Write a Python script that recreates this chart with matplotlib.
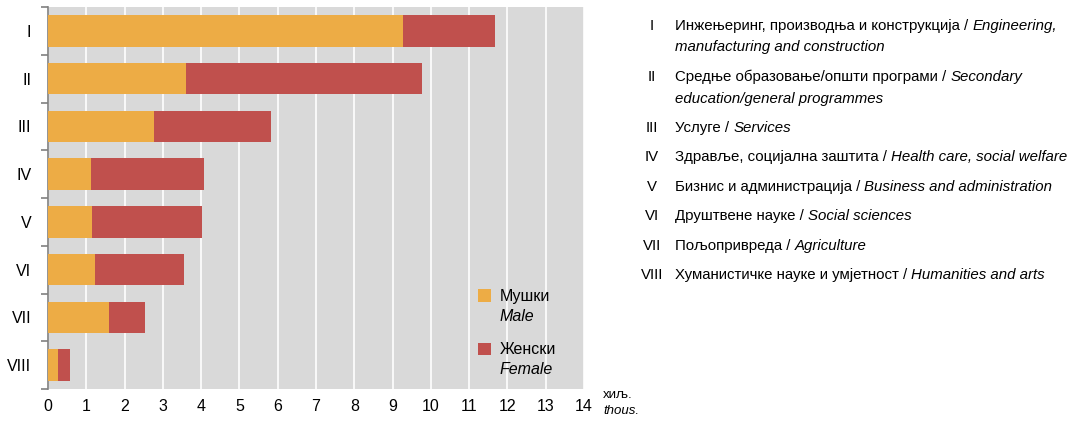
import numpy as np
import matplotlib
matplotlib.use("Agg")
import matplotlib.pyplot as plt
from matplotlib.ticker import FixedLocator

# data (thousands)
categories = ["I", "II", "III", "IV", "V", "VI", "VII", "VIII"]
male = [9.26, 3.61, 2.77, 1.13, 1.16, 1.24, 1.59, 0.26]
total = [11.68, 9.78, 5.83, 4.08, 4.01, 3.54, 2.54, 0.57]
female = [t - m for t, m in zip(total, male)]

desc_sr = [
    "Инжењеринг, производња и конструкција / ",
    "Средње образовање/општи програми / ",
    "Услуге / ",
    "Здравље, социјална заштита / ",
    "Бизнис и администрација / ",
    "Друштвене науке / ",
    "Пољопривреда / ",
    "Хуманистичке науке и умјетност / ",
]
desc_en = [
    ["Engineering,", "manufacturing and construction"],
    ["Secondary", "education/general programmes"],
    ["Services"],
    ["Health care, social welfare"],
    ["Business and administration"],
    ["Social sciences"],
    ["Agriculture"],
    ["Humanities and arts"],
]
legend_sr = ["Мушки", "Женски"]
legend_en = ["Male", "Female"]
x_ticks = list(range(0, 15))

MALE_C = "#EDAC45"
FEMALE_C = "#C0504D"
BG = "#D9D9D9"

plt.rcParams["font.family"] = ["Liberation Sans", "DejaVu Sans"]
FS = 11.5
FS_KEY = 10.8

fig = plt.figure(figsize=(10.87, 4.22), dpi=100)
ax = fig.add_axes([48 / 1087, 1 - 389 / 422, 536 / 1087, 382 / 422])
ax.set_facecolor(BG)

y = np.arange(len(categories))
h_m = ax.barh(y, male, height=0.66, color=MALE_C, zorder=3)
h_f = ax.barh(y, female, left=male, height=0.66, color=FEMALE_C, zorder=3)

ax.set_xlim(0, 14)
ax.set_ylim(7.5, -0.5)
ax.set_xticks(x_ticks)
ax.set_xticklabels([str(v) for v in x_ticks], fontsize=FS)
ax.tick_params(axis="x", length=0, pad=7)
ax.grid(axis="x", color="white", linewidth=1.2, zorder=1)
ax.set_axisbelow(True)

ax.set_yticks(y)
ax.set_yticklabels(categories, fontsize=FS)
ax.tick_params(axis="y", which="major", length=0, pad=12)
ax.yaxis.set_minor_locator(FixedLocator(np.arange(-0.5, 8, 1)))
ax.tick_params(axis="y", which="minor", length=5, width=1.2, color="#808080")

for s in ["top", "right", "bottom"]:
    ax.spines[s].set_visible(False)
ax.spines["left"].set_color("#808080")
ax.spines["left"].set_linewidth(1.2)

leg = ax.legend(
    [h_m, h_f],
    legend_sr,
    loc="upper left",
    bbox_to_anchor=(430 / 536, 1 - (289 - 7) / 382),
    frameon=False,
    fontsize=FS,
    handlelength=0.8,
    handleheight=0.8,
    handletextpad=0.55,
    labelspacing=2.4,
    borderpad=0,
    borderaxespad=0,
)

fig.canvas.draw()
renderer = fig.canvas.get_renderer()
for txt, en in zip(leg.get_texts(), legend_en):
    bb = txt.get_window_extent(renderer)
    fig.text(bb.x0 / 1087, (bb.y0 - 5) / 422, en, fontsize=FS, ha="left",
             va="top", style="italic")

# unit label
fig.text(603 / 1087, 1 - 395 / 422, "хиљ.", fontsize=9.5, va="center", ha="left")
fig.text(603 / 1087, 1 - 411 / 422, "thous.", fontsize=9.5, va="center",
         ha="left", style="italic")

# right-hand key
line_y = [[26, 47], [77, 99], [128], [157], [187], [216], [246], [275]]
for cat, sr, en, ys in zip(categories, desc_sr, desc_en, line_y):
    fig.text(652 / 1087, 1 - ys[0] / 422, cat, fontsize=FS_KEY, ha="center",
             va="center")
    t = fig.text(675 / 1087, 1 - ys[0] / 422, sr, fontsize=FS_KEY, ha="left",
                 va="center")
    bb = t.get_window_extent(renderer)
    fig.text(bb.x1 / 1087, 1 - ys[0] / 422, en[0], fontsize=FS_KEY, ha="left",
             va="center", style="italic")
    if len(en) > 1:
        fig.text(675 / 1087, 1 - ys[1] / 422, en[1], fontsize=FS_KEY, ha="left",
                 va="center", style="italic")

fig.savefig("out.png", dpi=100)
